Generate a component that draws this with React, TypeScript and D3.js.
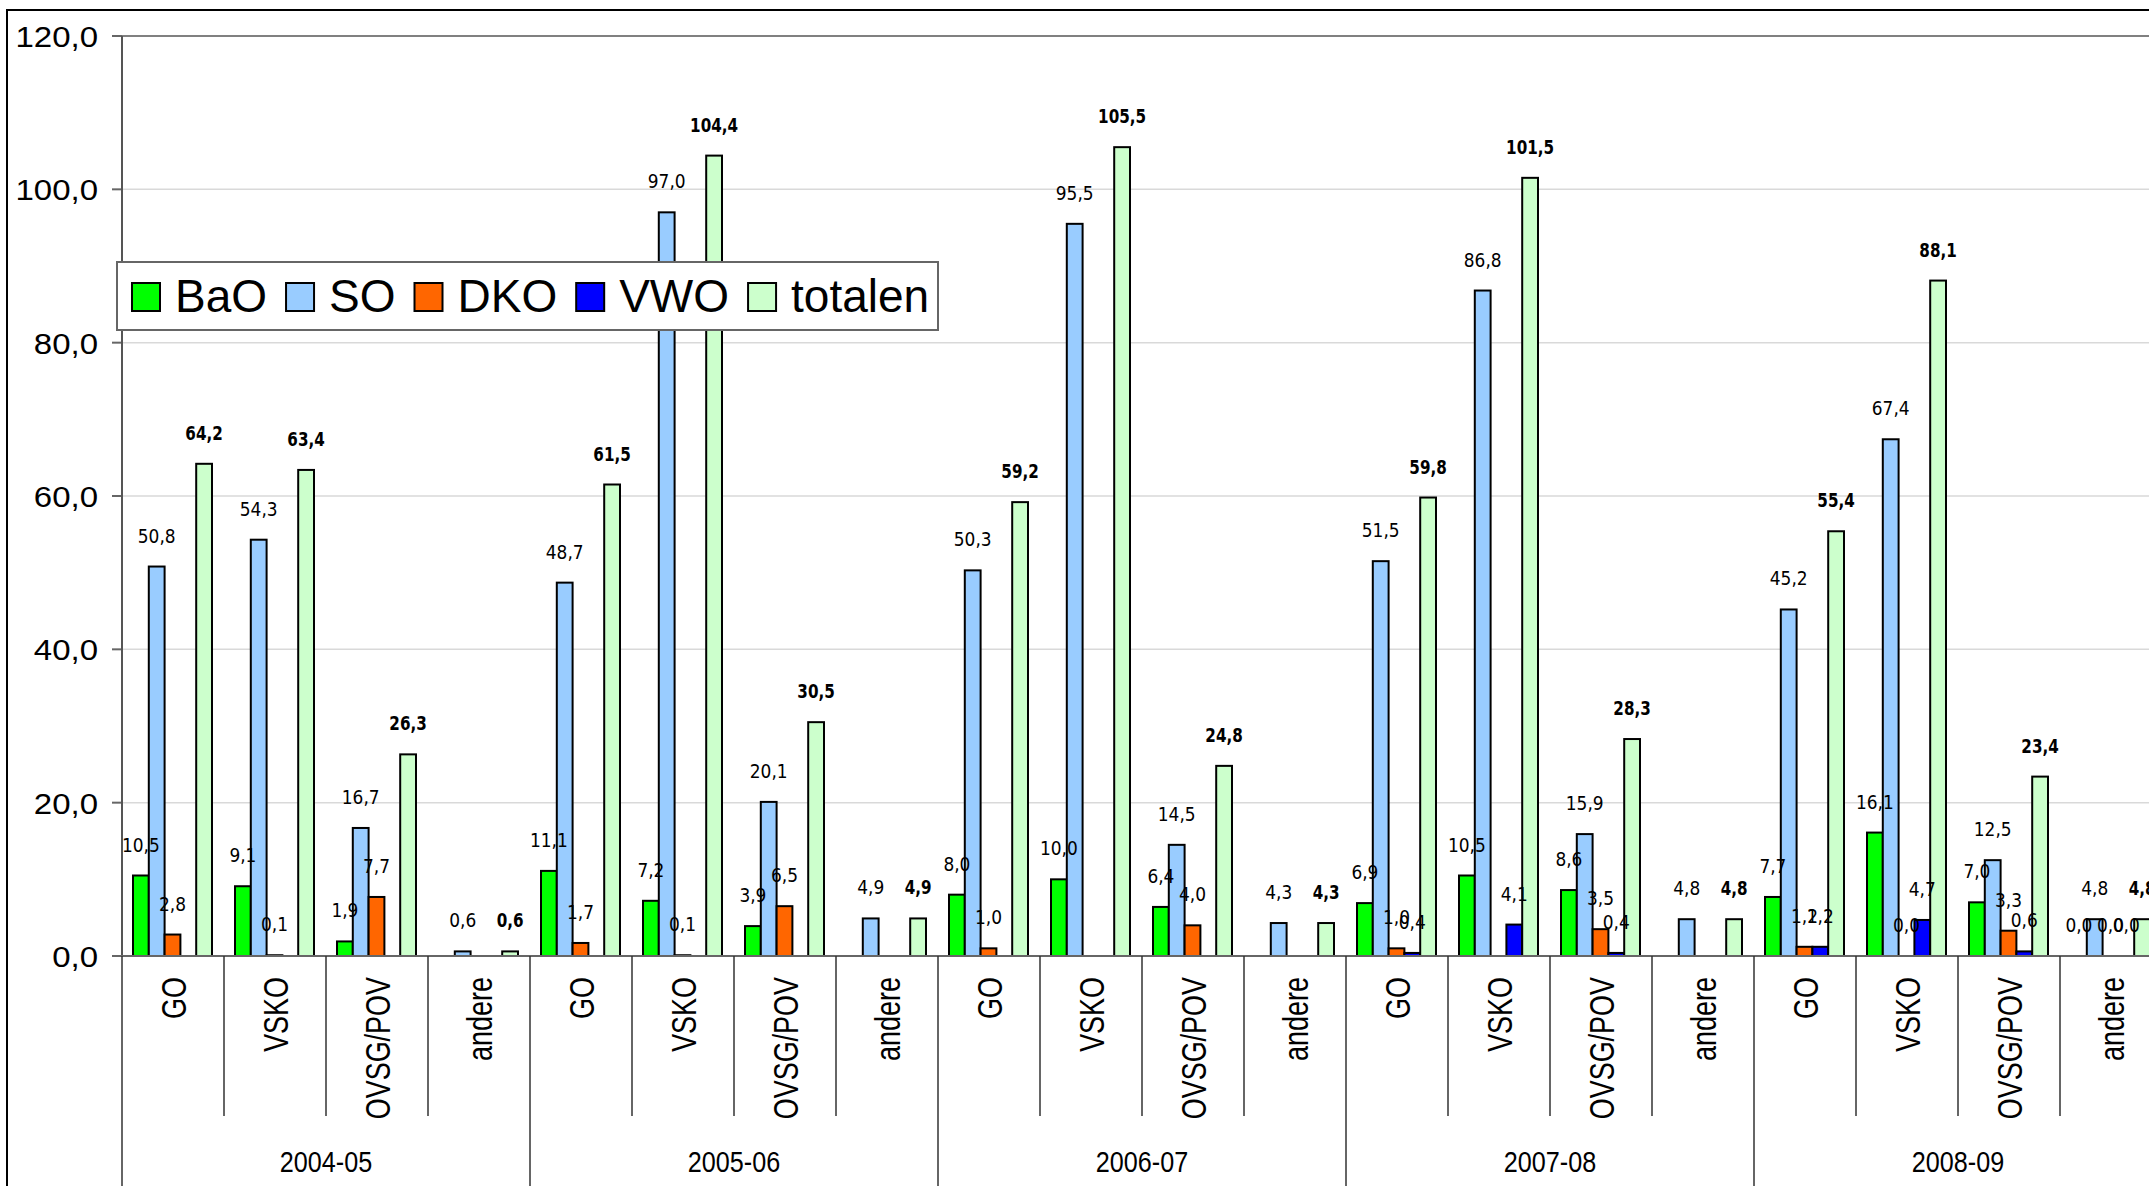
import { scaleBand, scaleLinear } from "d3";
import { useMemo } from "react";

const years = ["2004-05", "2005-06", "2006-07", "2007-08", "2008-09"];
const networks = ["GO", "VSKO", "OVSG/POV", "andere"];
const seriesNames = ["BaO", "SO", "DKO", "VWO", "totalen"];
const seriesColors = ["#00ff00", "#99ccff", "#ff6600", "#0000ff", "#ccffcc"];
const yTicks = [0, 20, 40, 60, 80, 100, 120];

// one value per category (year x network), null = no bar / no label
const baoValues = [10.5, 9.1, 1.9, null, 11.1, 7.2, 3.9, null, 8.0, 10.0, 6.4, null, 6.9, 10.5, 8.6, null, 7.7, 16.1, 7.0, 0.0];
const soValues = [50.8, 54.3, 16.7, 0.6, 48.7, 97.0, 20.1, 4.9, 50.3, 95.5, 14.5, 4.3, 51.5, 86.8, 15.9, 4.8, 45.2, 67.4, 12.5, 4.8];
const dkoValues = [2.8, 0.1, 7.7, null, 1.7, 0.1, 6.5, null, 1.0, null, 4.0, null, 1.0, null, 3.5, null, 1.2, 0.0, 3.3, 0.0];
const vwoValues = [null, null, null, null, null, null, null, null, null, null, null, null, 0.4, 4.1, 0.4, null, 1.2, 4.7, 0.6, 0.0];
const totalValues = [64.2, 63.4, 26.3, 0.6, 61.5, 104.4, 30.5, 4.9, 59.2, 105.5, 24.8, 4.3, 59.8, 101.5, 28.3, 4.8, 55.4, 88.1, 23.4, 4.8];

const seriesValues = [baoValues, soValues, dkoValues, vwoValues, totalValues];

const W = 2149;
const H = 1186;
const margin = { left: 122, top: 36, zeroY: 956 };
const catWidth = 102;

const fmt = (v: number) => v.toFixed(1).replace(".", ",");

function Legend() {
  const fontSize = 46;
  const items = useMemo(() => {
    const ctx = document.createElement("canvas").getContext("2d");
    let x = 132;
    return seriesNames.map((name, i) => {
      let w = name.length * 25;
      if (ctx) {
        ctx.font = `${fontSize}px "Liberation Sans", Arial, sans-serif`;
        w = ctx.measureText(name).width;
      }
      const item = { name, color: seriesColors[i], x };
      x += 29 + 14 + w + 19;
      return item;
    });
  }, []);

  return (
    <g>
      <rect x={117} y={262} width={821} height={68} fill="#fff" stroke="#666" strokeWidth={2} />
      {items.map((d) => (
        <g key={d.name}>
          <rect x={d.x} y={283} width={28} height={28} fill={d.color} stroke="#000" strokeWidth={2} />
          <text
            x={d.x + 43}
            y={312}
            fontSize={fontSize}
            fontFamily='"Liberation Sans", Arial, sans-serif'
            fill="#000"
          >
            {d.name}
          </text>
        </g>
      ))}
    </g>
  );
}

export default function App() {
  const categories = years.flatMap((yr) => networks.map((n) => `${yr}|${n}`));

  const x = scaleBand<string>()
    .domain(categories)
    .range([margin.left, margin.left + categories.length * catWidth]);
  const inner = scaleBand<string>().domain(seriesNames).range([11, 90]);
  const y = scaleLinear().domain([0, 120]).range([margin.zeroY, margin.top]);

  const plotRight = margin.left + categories.length * catWidth;
  const labelFont = '"DejaVu Sans", Verdana, sans-serif';

  return (
    <svg
      width={W}
      height={H}
      style={{ position: "absolute", left: 0, top: 0, display: "block", background: "#fff" }}
    >
      {/* chart area border */}
      <rect x={7} y={10} width={W + 20} height={H + 20} fill="#fff" stroke="#000" strokeWidth={2} />

      {/* gridlines */}
      {yTicks.slice(1, -1).map((t) => (
        <line key={t} x1={margin.left} x2={plotRight} y1={y(t)} y2={y(t)} stroke="#d9d9d9" strokeWidth={1.5} />
      ))}
      <line x1={margin.left} x2={plotRight} y1={y(120)} y2={y(120)} stroke="#808080" strokeWidth={2} />

      {/* y axis */}
      {yTicks.map((t) => (
        <g key={t}>
          <line x1={112} x2={margin.left} y1={y(t)} y2={y(t)} stroke="#666" strokeWidth={2} />
          <text
            transform={`translate(98, ${y(t) + 11}) scale(1.1, 1)`}
            textAnchor="end"
            fontSize={30}
            fontFamily='"Liberation Sans", Arial, sans-serif'
            fill="#000"
          >
            {fmt(t)}
          </text>
        </g>
      ))}

      {/* bars */}
      {seriesValues.map((vals, si) =>
        vals.map((v, ci) =>
          v === null ? null : (
            <rect
              key={`bar-${si}-${ci}`}
              x={(x(categories[ci]) ?? 0) + (inner(seriesNames[si]) ?? 0)}
              y={y(v)}
              width={inner.bandwidth()}
              height={margin.zeroY - y(v)}
              fill={seriesColors[si]}
              stroke="#000"
              strokeWidth={2}
            />
          )
        )
      )}

      {/* axes lines */}
      <line x1={margin.left} x2={margin.left} y1={margin.top} y2={margin.zeroY} stroke="#555" strokeWidth={2} />
      <line x1={112} x2={plotRight} y1={margin.zeroY} y2={margin.zeroY} stroke="#666" strokeWidth={2} />

      {/* data labels */}
      {seriesValues.map((vals, si) =>
        vals.map((v, ci) => {
          if (v === null) return null;
          const cx = (x(categories[ci]) ?? 0) + (inner(seriesNames[si]) ?? 0) + inner.bandwidth() / 2;
          const bold = si === seriesNames.length - 1;
          return (
            <text
              key={`lab-${si}-${ci}`}
              transform={`translate(${cx}, ${y(v) - 24}) scale(${bold ? 0.76 : 0.85}, 1)`}
              textAnchor="middle"
              fontSize={20}
              fontWeight={bold ? "bold" : "normal"}
              fontFamily={labelFont}
              fill="#000"
            >
              {fmt(v)}
            </text>
          );
        })
      )}

      {/* category dividers and labels */}
      {categories.map((c, ci) => {
        const x0 = x(c) ?? 0;
        const isYearStart = ci % networks.length === 0;
        return (
          <g key={`cat-${c}`}>
            <line
              x1={x0}
              x2={x0}
              y1={margin.zeroY}
              y2={isYearStart ? H + 10 : 1116}
              stroke="#333"
              strokeWidth={1.5}
            />
            <text
              transform={`translate(${x0 + catWidth / 2 + 12.5}, 977) rotate(-90) scale(0.77, 1)`}
              textAnchor="end"
              fontSize={35}
              fontFamily='"Liberation Sans", Arial, sans-serif'
              fill="#000"
            >
              {c.split("|")[1]}
            </text>
          </g>
        );
      })}
      <line x1={plotRight} x2={plotRight} y1={margin.zeroY} y2={H + 10} stroke="#333" strokeWidth={1.5} />

      {/* year labels */}
      {years.map((yr, yi) => {
        const x0 = x(categories[yi * networks.length]) ?? 0;
        return (
          <text
            key={yr}
            transform={`translate(${x0 + (catWidth * networks.length) / 2}, 1172) scale(0.84, 1)`}
            textAnchor="middle"
            fontSize={30}
            fontFamily='"Liberation Sans", Arial, sans-serif'
            fill="#000"
          >
            {yr}
          </text>
        );
      })}

      <Legend />
    </svg>
  );
}
